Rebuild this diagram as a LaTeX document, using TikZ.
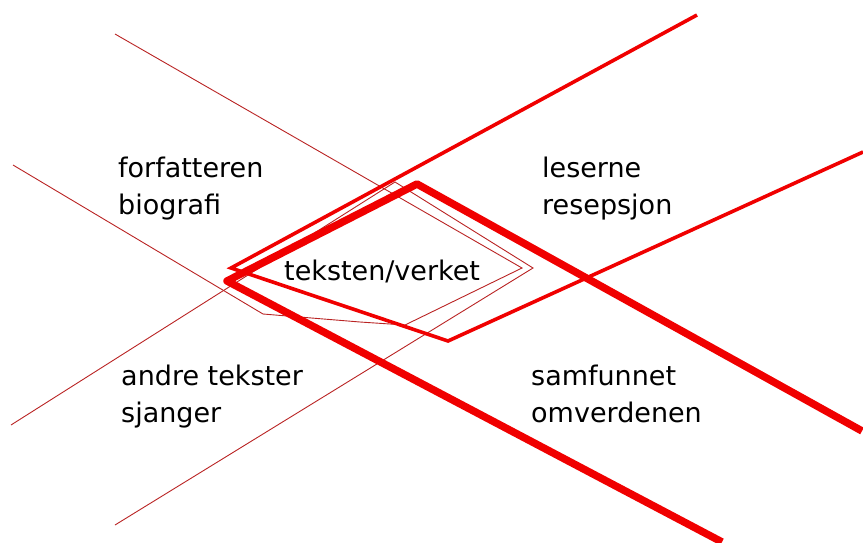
\documentclass[tikz,border=0pt]{standalone}
\usepackage{fontspec}
\setmainfont{DejaVu Sans}
\definecolor{thinred}{RGB}{185,35,35}
\definecolor{brightred}{RGB}{240,0,0}
\begin{document}
\begin{tikzpicture}[x=1pt,y=-1pt,
  thinline/.style={draw=thinred, line width=0.9pt, line join=miter},
  medline/.style={draw=brightred, line width=3.6pt, line join=miter},
  thickline/.style={draw=brightred, line width=7.5pt, line join=round},
  lbl/.style={anchor=base west, inner sep=0pt, align=left, font=\fontsize{27}{37}\selectfont}]
\useasboundingbox (0,0) rectangle (863,542);
% forfatteren band (thin)
\coordinate (f1) at (115,34);
\coordinate (f2) at (522,268);
\coordinate (f3) at (405,325);
\coordinate (f4) at (360,322);
\coordinate (f5) at (263,314);
\coordinate (f6) at (13,165);
% andre tekster band (thin)
\coordinate (a1) at (11,425);
\coordinate (a2) at (395,182);
\coordinate (a3) at (533,268);
\coordinate (a4) at (115,525);
% leserne band (medium)
\coordinate (m1) at (697,15);
\coordinate (m2) at (231,268);
\coordinate (m3) at (448,341);
\coordinate (m4) at (863,152);
% samfunnet band (thick)
\coordinate (t1) at (862,431);
\coordinate (t2) at (417,184);
\coordinate (t3) at (227,281);
\coordinate (t4) at (722,542);
\draw[thinline] (f1) -- (f2) -- (f3) -- (f4) -- (f5) -- (f6);
\draw[thinline] (a1) -- (a2) -- (a3) -- (a4);
\draw[medline] (m1) -- (m2) -- (m3) -- (m4);
\draw[thickline] (t1) -- (t2) -- (t3) -- (t4);
\node[lbl] (forf) at (118,214) {forfatteren\\biografi};
\node[lbl] (les) at (542,214) {leserne\\resepsjon};
\node[lbl] (tekst) at (284,280) {teksten/verket};
\node[lbl] (andre) at (121,422) {andre tekster\\sjanger};
\node[lbl] (samf) at (531,422) {samfunnet\\omverdenen};
\end{tikzpicture}
\end{document}
